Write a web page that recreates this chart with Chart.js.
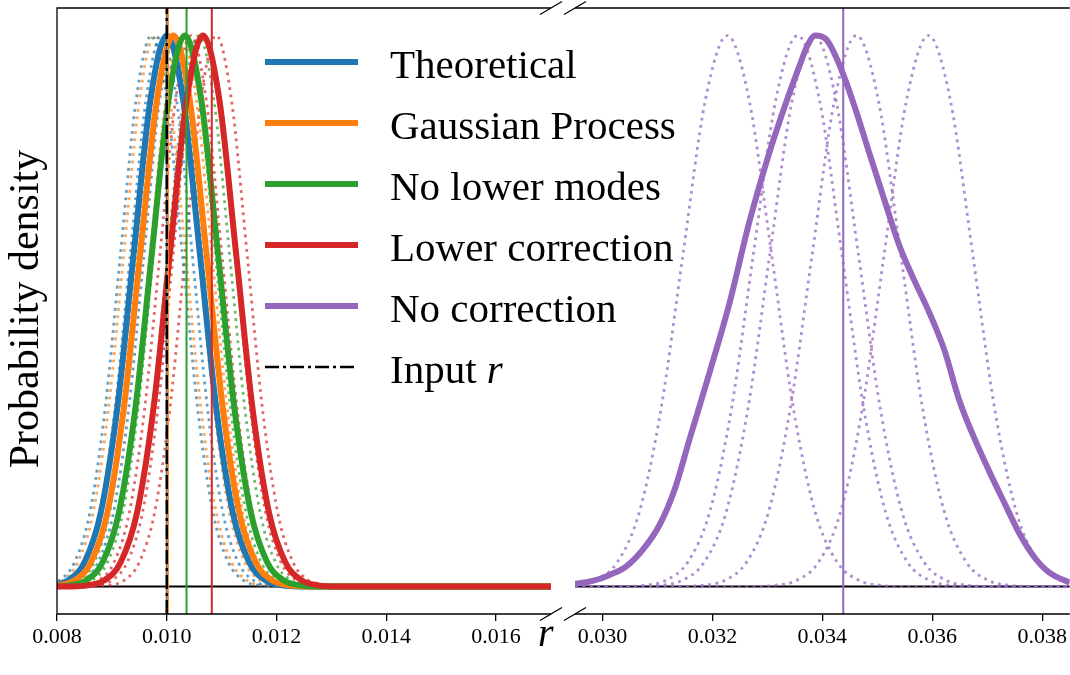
<!DOCTYPE html>
<html>
<head>
<meta charset="utf-8">
<script src="https://cdn.jsdelivr.net/npm/chart.js@4.4.1/dist/chart.umd.min.js"></script>
<style>
  html, body { margin: 0; padding: 0; background: #fff; }
  #wrap { position: relative; width: 1070px; height: 675px; }
  #wrap canvas { position: absolute; left: 0; top: 0; }
</style>
</head>
<body>
<div id="wrap">
  <canvas id="leftChart" width="1070" height="675"></canvas>
  <canvas id="rightChart" width="1070" height="675"></canvas>
</div>
<script>
// x limits of the two halves of the broken axis
const leftRange = [0.008, 0.017];
const rightRange = [0.0295, 0.0385];
const yRange = [-0.05, 1.05];
const leftTicks = [0.008, 0.010, 0.012, 0.014, 0.016];
const rightTicks = [0.030, 0.032, 0.034, 0.036, 0.038];

const seriesNames = ['Theoretical', 'Gaussian Process', 'No lower modes', 'Lower correction', 'No correction'];
const inputLabel = 'Input';

const bumpLevels = [0, 0.002, 0.011, 0.044, 0.135, 0.325, 0.607, 0.882, 1, 0.882, 0.607, 0.325, 0.135, 0.044, 0.011, 0.002, 0];

// x where each solid curve crosses bumpLevels
const theoreticalX = [0.0076, 0.0079, 0.0082, 0.0085, 0.0088, 0.0091, 0.0094, 0.0097, 0.0100, 0.0103, 0.0106, 0.0109, 0.0112, 0.0115, 0.0118, 0.0121, 0.0124];
const gaussProcX = [0.00772, 0.00802, 0.00832, 0.00862, 0.00892, 0.00922, 0.00952, 0.00982, 0.01012, 0.01042, 0.01072, 0.01102, 0.01132, 0.01162, 0.01192, 0.01222, 0.01252];
const noLowerX = [0.00793, 0.00823, 0.00853, 0.00883, 0.00913, 0.00943, 0.00973, 0.01003, 0.01033, 0.01063, 0.01093, 0.01123, 0.01153, 0.01183, 0.01213, 0.01243, 0.01273];
const lowerCorrX = [0.00826, 0.00856, 0.00886, 0.00916, 0.00946, 0.00976, 0.01006, 0.01036, 0.01066, 0.01096, 0.01126, 0.01156, 0.01186, 0.01216, 0.01246, 0.01276, 0.01306];

// dotted single runs, same crossing levels
const theoreticalRunsX = [
  [0.00748, 0.00776, 0.00804, 0.00832, 0.00860, 0.00888, 0.00916, 0.00944, 0.00972, 0.01000, 0.01028, 0.01056, 0.01084, 0.01112, 0.01140, 0.01168, 0.01196],
  [0.00766, 0.00794, 0.00822, 0.00850, 0.00878, 0.00906, 0.00934, 0.00962, 0.00990, 0.01018, 0.01046, 0.01074, 0.01102, 0.01130, 0.01158, 0.01186, 0.01214],
  [0.00791, 0.00819, 0.00847, 0.00875, 0.00903, 0.00931, 0.00959, 0.00987, 0.01015, 0.01043, 0.01071, 0.01099, 0.01127, 0.01155, 0.01183, 0.01211, 0.01239]
];
const gaussProcRunsX = [
  [0.00754, 0.00782, 0.00810, 0.00838, 0.00866, 0.00894, 0.00922, 0.00950, 0.00978, 0.01006, 0.01034, 0.01062, 0.01090, 0.01118, 0.01146, 0.01174, 0.01202],
  [0.00778, 0.00806, 0.00834, 0.00862, 0.00890, 0.00918, 0.00946, 0.00974, 0.01002, 0.01030, 0.01058, 0.01086, 0.01114, 0.01142, 0.01170, 0.01198, 0.01226],
  [0.00802, 0.00830, 0.00858, 0.00886, 0.00914, 0.00942, 0.00970, 0.00998, 0.01026, 0.01054, 0.01082, 0.01110, 0.01138, 0.01166, 0.01194, 0.01222, 0.01250]
];
const noLowerRunsX = [
  [0.00784, 0.00812, 0.00840, 0.00868, 0.00896, 0.00924, 0.00952, 0.00980, 0.01008, 0.01036, 0.01064, 0.01092, 0.01120, 0.01148, 0.01176, 0.01204, 0.01232],
  [0.00808, 0.00836, 0.00864, 0.00892, 0.00920, 0.00948, 0.00976, 0.01004, 0.01032, 0.01060, 0.01088, 0.01116, 0.01144, 0.01172, 0.01200, 0.01228, 0.01256],
  [0.00834, 0.00862, 0.00890, 0.00918, 0.00946, 0.00974, 0.01002, 0.01030, 0.01058, 0.01086, 0.01114, 0.01142, 0.01170, 0.01198, 0.01226, 0.01254, 0.01282]
];
const lowerCorrRunsX = [
  [0.00820, 0.00848, 0.00876, 0.00904, 0.00932, 0.00960, 0.00988, 0.01016, 0.01044, 0.01072, 0.01100, 0.01128, 0.01156, 0.01184, 0.01212, 0.01240, 0.01268],
  [0.00844, 0.00872, 0.00900, 0.00928, 0.00956, 0.00984, 0.01012, 0.01040, 0.01068, 0.01096, 0.01124, 0.01152, 0.01180, 0.01208, 0.01236, 0.01264, 0.01292],
  [0.00866, 0.00894, 0.00922, 0.00950, 0.00978, 0.01006, 0.01034, 0.01062, 0.01090, 0.01118, 0.01146, 0.01174, 0.01202, 0.01230, 0.01258, 0.01286, 0.01314]
];
const noCorrRunsX = [
  [0.02907, 0.02947, 0.02987, 0.03027, 0.03067, 0.03107, 0.03147, 0.03187, 0.03227, 0.03267, 0.03307, 0.03347, 0.03387, 0.03427, 0.03467, 0.03507, 0.03547],
  [0.03035, 0.03075, 0.03115, 0.03155, 0.03195, 0.03235, 0.03275, 0.03315, 0.03355, 0.03395, 0.03435, 0.03475, 0.03515, 0.03555, 0.03595, 0.03635, 0.03675],
  [0.03065, 0.03105, 0.03145, 0.03185, 0.03225, 0.03265, 0.03305, 0.03345, 0.03385, 0.03425, 0.03465, 0.03505, 0.03545, 0.03585, 0.03625, 0.03665, 0.03705],
  [0.03142, 0.03182, 0.03222, 0.03262, 0.03302, 0.03342, 0.03382, 0.03422, 0.03462, 0.03502, 0.03542, 0.03582, 0.03622, 0.03662, 0.03702, 0.03742, 0.03782],
  [0.03273, 0.03313, 0.03353, 0.03393, 0.03433, 0.03473, 0.03513, 0.03553, 0.03593, 0.03633, 0.03673, 0.03713, 0.03753, 0.03793, 0.03833, 0.03873, 0.03913]
];

// the skewed "No correction" curve, read point by point
const noCorrX = [0.02950, 0.02982, 0.03013, 0.03044, 0.03076, 0.03104, 0.03131, 0.03158, 0.03195, 0.03231, 0.03267, 0.03304, 0.03331, 0.03358, 0.03373, 0.03387,
  0.03407, 0.03431, 0.03458, 0.03485, 0.03513, 0.03540, 0.03567, 0.03595, 0.03622, 0.03649, 0.03676, 0.03704, 0.03731, 0.03758, 0.03785, 0.03813, 0.03850];
const noCorrY = [0.005, 0.010, 0.021, 0.037, 0.070, 0.112, 0.175, 0.266, 0.389, 0.514, 0.661, 0.789, 0.870, 0.944, 0.982, 1.0,
  0.993, 0.947, 0.873, 0.788, 0.701, 0.619, 0.556, 0.496, 0.429, 0.338, 0.270, 0.208, 0.152, 0.097, 0.054, 0.025, 0.007];

// vertical markers
const inputR = 0.0100;
const theoreticalMean = 0.0100;
const gaussProcMean = 0.01002;
const noLowerMean = 0.01036;
const lowerCorrMean = 0.01082;
const noCorrMean = 0.03438;

const C = { blue: '#1f77b4', orange: '#ff7f0e', green: '#2ca02c', red: '#d62728', purple: '#9467bd' };
const faded = {
  blue: 'rgba(31,119,180,0.7)', orange: 'rgba(255,127,14,0.7)', green: 'rgba(44,160,44,0.7)',
  red: 'rgba(214,39,40,0.7)', purple: 'rgba(148,103,189,0.75)'
};
const serif = '"Liberation Serif", "Times New Roman", serif';

// build {x,y} points, padding the tails out to the panel edges
const bumpPoints = (xs, range) => {
  const pts = xs.map((x, i) => ({ x: x, y: bumpLevels[i] }));
  if (xs[0] > range[0]) pts.unshift({ x: range[0], y: 0 });
  if (xs[xs.length - 1] < range[1]) pts.push({ x: range[1], y: 0 });
  return pts;
};

const curve = (data, color, width, order) => ({
  data, borderColor: color, borderWidth: width, order,
  pointRadius: 0, fill: false, cubicInterpolationMode: 'monotone', borderJoinStyle: 'round'
});
const dotted = (data, color) => Object.assign(curve(data, color, 2.8, 50), { borderDash: [2.8, 4.6] });
const vline = (x, color, width, order) => ({
  data: [{ x: x, y: yRange[0] }, { x: x, y: yRange[1] }], borderColor: color, borderWidth: width, order, pointRadius: 0
});
const hline = (range) => ({
  data: [{ x: range[0], y: 0 }, { x: range[1], y: 0 }], borderColor: '#000', borderWidth: 2, order: 100, pointRadius: 0
});

const breakMark = (ctx, cx, cy) => {
  ctx.beginPath();
  ctx.moveTo(cx - 11, cy + 6.5);
  ctx.lineTo(cx + 11, cy - 6.5);
  ctx.stroke();
};

const legendRows = [
  { label: seriesNames[0], color: C.blue, width: 6 },
  { label: seriesNames[1], color: C.orange, width: 6 },
  { label: seriesNames[2], color: C.green, width: 6 },
  { label: seriesNames[3], color: C.red, width: 6 },
  { label: seriesNames[4], color: C.purple, width: 6 },
  { label: inputLabel, math: 'r', color: '#000', width: 2.5, dash: [14, 4, 3, 4] }
];

const leftDecor = {
  id: 'leftDecor',
  afterDraw(chart) {
    const { ctx, chartArea: a } = chart;
    ctx.save();
    ctx.strokeStyle = '#000';
    ctx.lineWidth = 1.3;
    ctx.beginPath();
    ctx.moveTo(a.right, a.top);
    ctx.lineTo(a.left, a.top);
    ctx.lineTo(a.left, a.bottom);
    ctx.lineTo(a.right, a.bottom);
    ctx.stroke();
    breakMark(ctx, a.right, a.top);
    breakMark(ctx, a.right, a.bottom);

    // y title
    ctx.fillStyle = '#000';
    ctx.font = '42px ' + serif;
    ctx.textAlign = 'center';
    ctx.textBaseline = 'alphabetic';
    ctx.save();
    ctx.translate(38, (a.top + a.bottom) / 2 - 2);
    ctx.rotate(-Math.PI / 2);
    ctx.fillText('Probability density', 0, 0);
    ctx.restore();

    // x title, centred on the whole figure
    ctx.font = 'italic 40px ' + serif;
    ctx.fillText('r', chart.width * 0.51, 646);

    // legend, no frame
    ctx.textAlign = 'left';
    legendRows.forEach((row, i) => {
      const y = 62 + i * 61;
      ctx.strokeStyle = row.color;
      ctx.lineWidth = row.width;
      ctx.setLineDash(row.dash || []);
      ctx.beginPath();
      ctx.moveTo(265, y);
      ctx.lineTo(358, y);
      ctx.stroke();
      ctx.setLineDash([]);
      ctx.font = '41px ' + serif;
      ctx.fillText(row.label, 390, y + 16);
      if (row.math) {
        const w = ctx.measureText(row.label + ' ').width;
        ctx.font = 'italic 41px ' + serif;
        ctx.fillText(row.math, 390 + w, y + 16);
      }
    });
    ctx.restore();
  }
};

const rightDecor = {
  id: 'rightDecor',
  afterDraw(chart) {
    const { ctx, chartArea: a } = chart;
    ctx.save();
    ctx.strokeStyle = '#000';
    ctx.lineWidth = 1.3;
    ctx.beginPath();
    ctx.moveTo(a.left, a.top);
    ctx.lineTo(a.right, a.top);
    ctx.moveTo(a.left, a.bottom);
    ctx.lineTo(a.right, a.bottom);
    ctx.stroke();
    breakMark(ctx, a.left, a.top);
    breakMark(ctx, a.left, a.bottom);
    ctx.restore();
  }
};

const panelOptions = (range, ticks, padding) => ({
  responsive: false,
  animation: false,
  events: [],
  layout: { padding: padding },
  plugins: { legend: { display: false }, tooltip: { enabled: false } },
  scales: {
    x: {
      type: 'linear',
      min: range[0],
      max: range[1],
      afterBuildTicks: (s) => { s.ticks = ticks.map((v) => ({ value: v })); },
      afterFit: (s) => { s.height = 61; },
      grid: { drawOnChartArea: false, drawTicks: true, tickLength: 7, color: '#000', lineWidth: 1.3 },
      border: { display: false },
      ticks: {
        color: '#000',
        padding: 3,
        maxRotation: 0,
        font: { family: serif, size: 22 },
        callback: (v) => Number(v).toFixed(3)
      }
    },
    y: { display: false, min: yRange[0], max: yRange[1] }
  }
});

// Left panel
const leftDatasets = [hline(leftRange)];
theoreticalRunsX.forEach((xs) => leftDatasets.push(dotted(bumpPoints(xs, leftRange), faded.blue)));
gaussProcRunsX.forEach((xs) => leftDatasets.push(dotted(bumpPoints(xs, leftRange), faded.orange)));
noLowerRunsX.forEach((xs) => leftDatasets.push(dotted(bumpPoints(xs, leftRange), faded.green)));
lowerCorrRunsX.forEach((xs) => leftDatasets.push(dotted(bumpPoints(xs, leftRange), faded.red)));
leftDatasets.push(curve(bumpPoints(theoreticalX, leftRange), C.blue, 6, 14));
leftDatasets.push(curve(bumpPoints(gaussProcX, leftRange), C.orange, 6, 13));
leftDatasets.push(curve(bumpPoints(noLowerX, leftRange), C.green, 6, 12));
leftDatasets.push(curve(bumpPoints(lowerCorrX, leftRange), C.red, 6, 11));
leftDatasets.push(vline(theoreticalMean, C.blue, 2, 6));
leftDatasets.push(vline(gaussProcMean, C.orange, 2, 5));
leftDatasets.push(vline(noLowerMean, C.green, 2, 5));
leftDatasets.push(vline(lowerCorrMean, C.red, 2, 5));
leftDatasets.push(Object.assign(vline(inputR, '#000', 2.5, 1), { borderDash: [14, 4, 3, 4] }));

new Chart(document.getElementById('leftChart'), {
  type: 'line',
  data: { datasets: leftDatasets },
  options: panelOptions(leftRange, leftTicks, { left: 57, right: 519, top: 8, bottom: 0 }),
  plugins: [leftDecor]
});

// Right panel
const rightDatasets = [hline(rightRange)];
noCorrRunsX.forEach((xs) => rightDatasets.push(dotted(bumpPoints(xs, rightRange), faded.purple)));
rightDatasets.push(curve(noCorrX.map((x, i) => ({ x: x, y: noCorrY[i] })), C.purple, 6, 11));
rightDatasets.push(vline(noCorrMean, C.purple, 2, 5));

new Chart(document.getElementById('rightChart'), {
  type: 'line',
  data: { datasets: rightDatasets },
  options: panelOptions(rightRange, rightTicks, { left: 575, right: 0, top: 8, bottom: 0 }),
  plugins: [rightDecor]
});
</script>
</body>
</html>
